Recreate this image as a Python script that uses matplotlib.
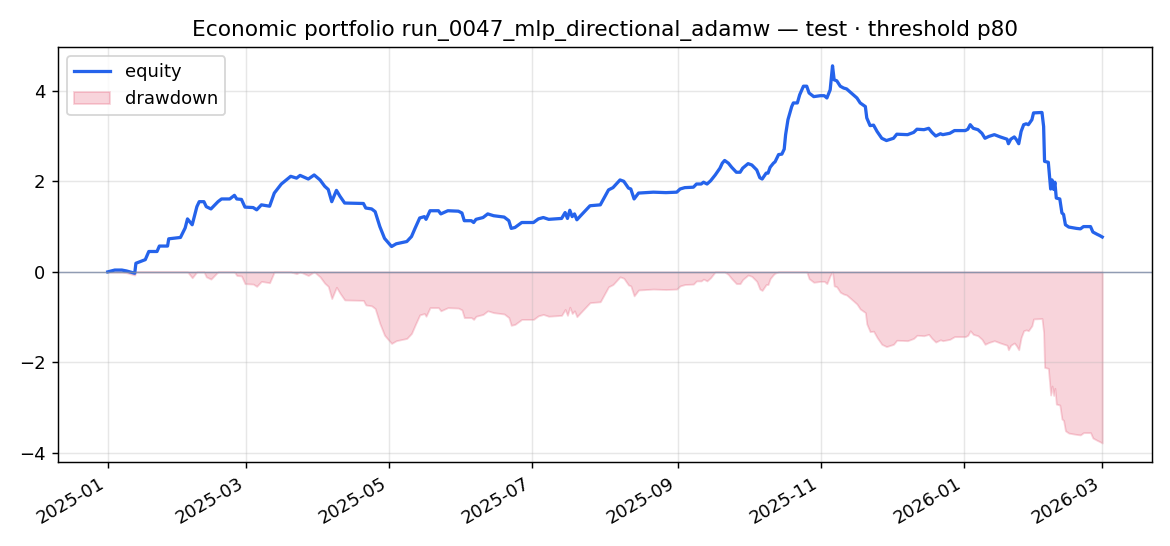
import matplotlib
matplotlib.use("Agg")
import matplotlib.pyplot as plt
import numpy as np
import pandas as pd

# days since 2025-01-01 and equity values
days = [
    0, 1.5, 3, 6, 8, 11.5, 12, 16, 17.5, 21, 22, 25.5, 26, 31, 33, 34, 36, 38, 39, 41,
    42, 44, 47, 48.5, 52, 54, 55, 57, 58.5, 62, 63.5, 65.5, 69, 71, 74, 78, 80.5, 82, 85.5, 88,
    90.5, 92.5, 94, 95.5, 97.5, 99, 101, 109, 110, 112.5, 114, 116, 118, 120, 121, 123, 127.5, 129.5, 131, 133,
    135, 135.7, 137.4, 141, 142, 145, 149.5, 151, 152, 155, 156, 157, 160, 162, 164.5, 169, 171, 172, 173.6, 176.5,
    181.5, 183.6, 185.7, 188, 193.5, 195, 196, 197, 198, 199, 200, 201.6, 205.6, 210, 213.5, 215.4, 218.4, 220, 222, 223,
    224.4, 226.3, 232.6, 238, 242.6, 244, 246, 249.7, 251, 253, 254, 255.5, 257, 259, 261, 262, 263, 264.6, 266, 268,
    269.6, 270.7, 273, 274.6, 276.7, 278, 279, 280.7, 281.5, 282.4, 283.8, 284.5, 286, 287.4, 288.4, 289, 290, 291.6, 292.3, 294,
    295, 296.6, 298, 299, 301, 303.8, 305.5, 306.6, 308, 309, 309.7, 310.8, 312.3, 313.7, 315, 317, 319.4, 320.8, 323, 323.6,
    325, 326.5, 328, 330, 332, 335, 336.4, 341, 343.6, 345, 348, 350, 351.4, 353, 355, 356, 359, 361, 365.6, 366.7,
    367.7, 369, 371, 372.7, 374, 375.6, 378, 380.5, 383.4, 384, 385, 386.5, 387.4, 388.4, 389.4, 390.5, 391.6, 392.5, 394, 394.7,
    398.3, 399, 399.4, 401, 402, 402.6, 403.3, 403.8, 404.4, 405.9, 406.8, 407.5, 408.3, 409.7, 413, 414.7, 416, 419, 420, 421.8,
    423, 424,
]
equity = [
    0.00, 0.02, 0.04, 0.04, 0.02, -0.03, 0.19, 0.27, 0.45, 0.45, 0.57, 0.57, 0.73, 0.76, 0.97, 1.17, 1.04, 1.44, 1.55, 1.55,
    1.44, 1.39, 1.55, 1.61, 1.61, 1.69, 1.61, 1.60, 1.43, 1.42, 1.37, 1.48, 1.45, 1.74, 1.94, 2.11, 2.07, 2.13, 2.05, 2.14,
    2.03, 1.89, 1.82, 1.55, 1.80, 1.67, 1.52, 1.51, 1.41, 1.39, 1.33, 1.00, 0.74, 0.62, 0.56, 0.62, 0.67, 0.78, 0.96, 1.19,
    1.22, 1.16, 1.35, 1.35, 1.28, 1.35, 1.34, 1.30, 1.13, 1.13, 1.09, 1.16, 1.20, 1.28, 1.24, 1.21, 1.13, 0.96, 0.98, 1.09,
    1.09, 1.17, 1.20, 1.16, 1.18, 1.31, 1.18, 1.36, 1.22, 1.28, 1.15, 1.24, 1.46, 1.48, 1.81, 1.86, 2.03, 2.00, 1.85, 1.83,
    1.61, 1.74, 1.76, 1.75, 1.76, 1.83, 1.86, 1.87, 1.94, 1.94, 1.98, 1.94, 2.01, 2.14, 2.29, 2.40, 2.46, 2.40, 2.31, 2.20,
    2.20, 2.29, 2.39, 2.36, 2.25, 2.08, 2.05, 2.18, 2.18, 2.31, 2.40, 2.43, 2.59, 2.60, 2.71, 3.03, 3.36, 3.65, 3.73, 3.73,
    3.91, 4.10, 4.10, 3.95, 3.87, 3.89, 3.89, 3.84, 4.02, 4.55, 4.24, 4.22, 4.10, 4.06, 4.04, 3.95, 3.84, 3.73, 3.65, 3.40,
    3.23, 3.24, 3.10, 2.95, 2.90, 2.95, 3.04, 3.03, 3.08, 3.15, 3.14, 3.17, 3.08, 3.00, 3.05, 3.03, 3.06, 3.12, 3.12, 3.15,
    3.25, 3.17, 3.14, 3.06, 2.95, 2.99, 3.03, 2.98, 2.93, 2.83, 2.93, 2.98, 2.92, 2.83, 3.10, 3.25, 3.27, 3.25, 3.36, 3.51,
    3.52, 3.21, 2.44, 2.42, 1.83, 2.03, 1.82, 1.98, 1.63, 1.61, 1.30, 1.27, 1.04, 0.99, 0.96, 0.95, 1.00, 1.00, 0.88, 0.83,
    0.80, 0.77,
]

dates = pd.Timestamp("2025-01-01") + pd.to_timedelta(days, unit="D")
eq = np.array(equity)
drawdown = eq - np.maximum.accumulate(eq)

fig, ax = plt.subplots(figsize=(9, 4.2), dpi=130)
ax.plot(dates, eq, color="#2563eb", lw=1.8, label="equity")
ax.fill_between(dates, drawdown, 0, color="crimson", alpha=0.18, label="drawdown")
ax.axhline(0, color="#7a8aa6", lw=0.8, alpha=0.8)

ax.set_title("Economic portfolio run_0047_mlp_directional_adamw — test · threshold p80")
ax.grid(True, alpha=0.3)
ax.legend(loc="upper left")
fig.autofmt_xdate()
fig.subplots_adjust(left=0.0496, right=0.9846, top=0.914, bottom=0.154)

fig.savefig("out.png", dpi=130)
